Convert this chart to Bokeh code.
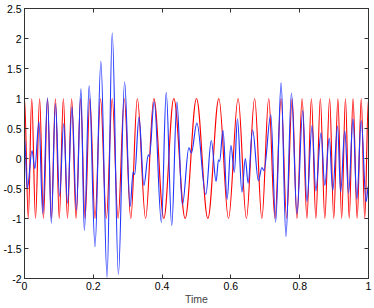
from bokeh.plotting import figure
from bokeh.models import (Range1d, LinearAxis, FixedTicker, ColumnDataSource,
                          CustomLabelingPolicy)
from bokeh.embed import file_html
from bokeh.resources import INLINE
import numpy as np

# ---- data: turning points of each signal ----
red_t = [0.000, 0.011, 0.021, 0.032, 0.044, 0.055, 0.067, 0.078, 0.090, 0.101,
         0.113, 0.125, 0.137, 0.150, 0.163, 0.176, 0.190, 0.205, 0.221, 0.238,
         0.255, 0.272, 0.290, 0.309, 0.328, 0.352, 0.376, 0.405, 0.434, 0.467,
         0.500, 0.533, 0.565, 0.593, 0.621, 0.645, 0.669, 0.690, 0.710, 0.728,
         0.746, 0.762, 0.778, 0.792, 0.807, 0.821, 0.834, 0.847, 0.860, 0.873,
         0.887, 0.899, 0.911, 0.922, 0.933, 0.944, 0.955, 0.967, 0.979, 0.989,
         1.000]
red_y = [1, -1, 1, -1, 1, -1, 1, -1, 1, -1,
         1, -1, 1, -1, 1, -1, 1, -1, 1, -1,
         1, -1, 1, -1, 1, -1, 1, -1, 1, -1,
         1, -1, 1, -1, 1, -1, 1, -1, 1, -1,
         1, -1, 1, -1, 1, -1, 1, -1, 1, -1,
         1, -1, 1, -1, 1, -1, 1, -1, 1, -1,
         1]

blue_t = [0.000, 0.008, 0.022, 0.030, 0.042, 0.053, 0.067, 0.078, 0.090, 0.102,
          0.114, 0.125, 0.138, 0.151, 0.164, 0.174, 0.188, 0.205, 0.222, 0.240,
          0.255, 0.273, 0.291, 0.307, 0.316, 0.320, 0.333, 0.347, 0.360, 0.363,
          0.377, 0.398, 0.412, 0.428, 0.443, 0.459, 0.478, 0.485, 0.501, 0.527,
          0.543, 0.557, 0.564, 0.567, 0.577, 0.589, 0.600, 0.610, 0.619, 0.632,
          0.642, 0.650, 0.663, 0.680, 0.690, 0.696, 0.716, 0.730, 0.746, 0.760,
          0.776, 0.792, 0.809, 0.821, 0.836, 0.847, 0.862, 0.873, 0.886, 0.896,
          0.910, 0.919, 0.931, 0.942, 0.955, 0.966, 0.979, 0.993, 1.000]
blue_y = [0.35, -0.50, 0.13, -0.17, 0.61, -0.92, 1.01, -1.08, 0.91, -0.63,
          0.58, -0.75, 0.86, -0.86, 1.16, -1.20, 1.21, -1.47, 1.62, -1.98,
          2.09, -1.93, 1.28, -0.80, -0.22, -0.27, 0.69, -0.45, 0.06, 0.03,
          0.95, -1.07, 1.10, -1.12, 0.94, -0.77, 0.18, 0.09, 0.59, -0.60,
          0.30, -0.38, -0.02, -0.05, 0.47, -0.68, 0.22, -0.23, 0.66, -0.56,
          0.00, -0.41, 0.48, -0.37, -0.15, -0.20, 0.73, -1.06, 1.26, -1.30,
          1.09, -0.92, 0.80, -0.72, 0.55, -0.54, 0.43, -0.45, 0.34, -0.53,
          0.54, -0.56, 0.46, -0.58, 0.66, -0.68, 0.63, -0.72, -0.45]

x_ticks = [0, 0.2, 0.4, 0.6, 0.8, 1]
x_labels = ["0", "0.2", "0.4", "0.6", "0.8", "1"]
y_ticks = [-2, -1.5, -1, -0.5, 0, 0.5, 1, 1.5, 2, 2.5]
y_labels = ["-2", "-1.5", "-1", "-0.5", "0", "0.5", "1", "1.5", "2", "2.5"]
x_title = "Time"

FONT = "Liberation Sans"
K = 0.3642  # bezier handle fraction giving a cosine-like half wave


def wave_source(t, y):
    t = np.asarray(t, dtype=float)
    y = np.asarray(y, dtype=float)
    x0, x1 = t[:-1], t[1:]
    y0, y1 = y[:-1], y[1:]
    dx = x1 - x0
    return ColumnDataSource(dict(x0=x0, y0=y0, x1=x1, y1=y1,
                                 cx0=x0 + K * dx, cy0=y0,
                                 cx1=x1 - K * dx, cy1=y1))


p = figure(width=374, height=308,
           x_range=Range1d(0, 1), y_range=Range1d(-2, 2.5),
           output_backend="svg", toolbar_location=None,
           min_border_left=24, min_border_right=6,
           min_border_top=8, min_border_bottom=30)

p.background_fill_color = "white"
p.border_fill_color = "white"
p.outline_line_color = "#333333"
p.outline_line_width = 1
p.grid.visible = False

p.bezier(x0="x0", y0="y0", x1="x1", y1="y1", cx0="cx0", cy0="cy0",
         cx1="cx1", cy1="cy1", source=wave_source(red_t, red_y),
         line_color="#ff0000", line_width=1.15)
p.bezier(x0="x0", y0="y0", x1="x1", y1="y1", cx0="cx0", cy0="cy0",
         cx1="cx1", cy1="cy1", source=wave_source(blue_t, blue_y),
         line_color="#2236ff", line_width=1.15)


def style_axis(ax, ticks, labels, show_labels=True):
    ax.ticker = FixedTicker(ticks=ticks)
    ax.major_label_overrides = {float(k): v for k, v in zip(ticks, labels)}
    ax.minor_tick_line_color = None
    ax.major_tick_in = 4
    ax.major_tick_out = 0
    ax.major_tick_line_color = "#333333"
    ax.axis_line_color = "#333333"
    ax.major_label_text_font = FONT
    ax.major_label_text_color = "black"
    if show_labels:
        ax.major_label_text_font_size = "10.5px"
        ax.major_label_standoff = 3
    else:
        # tick marks only: the labelling policy selects no label at all
        ax.major_label_policy = CustomLabelingPolicy(code="return new Set()")
        ax.major_label_text_font_size = "1px"
        ax.major_label_standoff = 0


style_axis(p.xaxis[0], x_ticks, x_labels)
style_axis(p.yaxis[0], y_ticks, y_labels)
p.xaxis[0].axis_label = x_title
p.xaxis[0].axis_label_text_font = FONT
p.xaxis[0].axis_label_text_font_size = "10.5px"
p.xaxis[0].axis_label_text_font_style = "normal"
p.xaxis[0].axis_label_standoff = 0

top = LinearAxis()
style_axis(top, x_ticks, x_labels, show_labels=False)
p.add_layout(top, "above")
right = LinearAxis()
style_axis(right, y_ticks, y_labels, show_labels=False)
p.add_layout(right, "right")

open("out.html", "w").write(file_html(p, INLINE))
